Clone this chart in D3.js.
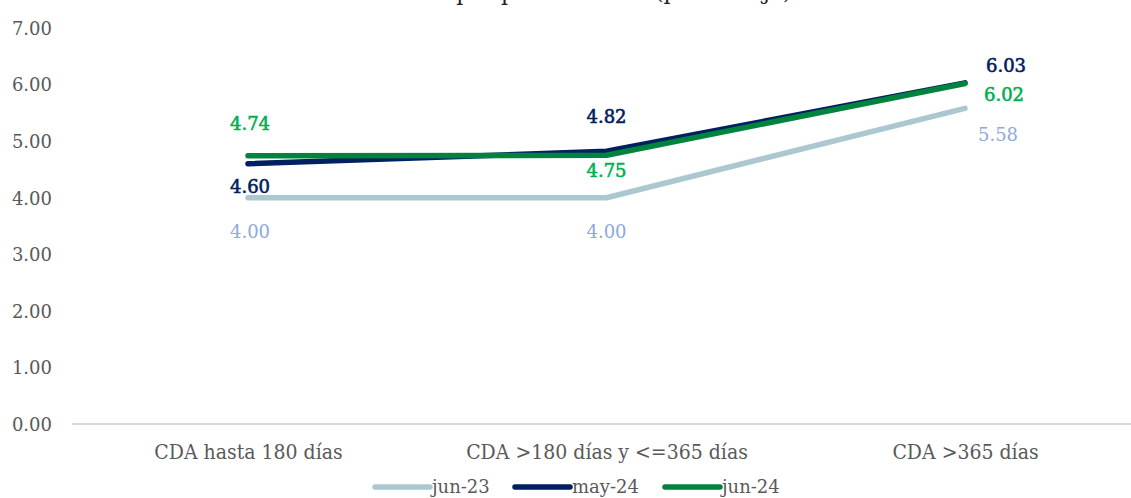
<!DOCTYPE html>
<html><head><meta charset="utf-8">
<script src="https://cdn.jsdelivr.net/npm/d3@7"></script>
<style>
body{margin:0;background:#fff;}
svg{display:block;}
</style></head>
<body><svg id="c" width="1131" height="498"></svg>
<script>
const categories = ["CDA hasta 180 días", "CDA >180 días y <=365 días", "CDA >365 días"];
const seriesNames = ["jun-23", "may-24", "jun-24"];
const jun23 = [4.00, 4.00, 5.58];
const may24 = [4.60, 4.82, 6.03];
const jun24 = [4.74, 4.75, 6.02];
const yTicks = [0, 1, 2, 3, 4, 5, 6, 7];
const titleText = "Gráfico 17. Tasas de interés de los CDA por plazo";
const titleUnit = "(porcentaje)";

const lineColors = ["#ABC7CF", "#002060", "#00843D"];
const labelColors = ["#8EA9DB", "#002060", "#00B050"];
// label placement per series per category: [dx, dy] relative to point
const labelPos = [
  [[2, 34], [0, 34], [33, 26]],
  [[2, 23], [0, -35], [41, -17]],
  [[2, -32], [0, 15], [39, 11]]
];

const svg = d3.select("#c");
const serif = "'DejaVu Serif', 'Liberation Serif', serif";

const x = d3.scalePoint().domain(categories).range([248, 965]);
const y = d3.scaleLinear().domain([0, 7]).range([424, 28]);

// title (cut off at top, as in the reference)
svg.append("text").attr("x", 8).attr("y", 0).attr("font-family", serif)
  .attr("font-size", 22).attr("fill", "#222").text(titleText);
svg.append("text").attr("x", 655).attr("y", -1).attr("font-family", serif)
  .attr("font-size", 22).attr("fill", "#222").text(titleUnit);

// y axis labels
const yAxis = d3.axisLeft(y).tickValues(yTicks).tickFormat(d3.format(".2f")).tickSize(0).tickPadding(0);
const ya = svg.append("g").attr("transform", "translate(52,0)").call(yAxis);
ya.select(".domain").remove();
ya.selectAll("text").attr("font-family", serif).attr("font-size", 18).attr("fill", "#595959").attr("dy", "0.35em");

// x axis baseline
svg.append("line").attr("x1", 72).attr("x2", 1131).attr("y1", y(0)).attr("y2", y(0))
  .attr("stroke", "#D9D9D9").attr("stroke-width", 2);

const xAxis = d3.axisBottom(x).tickSize(0).tickPadding(0);
const xa = svg.append("g").attr("transform", `translate(0,${y(0)})`).call(xAxis);
xa.select(".domain").remove();
xa.selectAll("text").attr("font-family", "'DejaVu Serif Condensed', 'DejaVu Serif', serif")
  .attr("font-size", 21).attr("fill", "#595959").attr("y", 35).attr("dy", 0);

const data = [jun23, may24, jun24];
const line = d3.line().x((d, i) => x(categories[i])).y(d => y(d));

data.forEach((vals, s) => {
  svg.append("path").datum(vals).attr("d", line).attr("fill", "none")
    .attr("stroke", lineColors[s]).attr("stroke-width", 5.5)
    .attr("stroke-linecap", "round").attr("stroke-linejoin", "round");
});

data.forEach((vals, s) => {
  svg.append("g").selectAll("text").data(vals).join("text")
    .attr("x", (d, i) => x(categories[i]) + labelPos[s][i][0])
    .attr("y", (d, i) => y(d) + labelPos[s][i][1])
    .attr("text-anchor", "middle").attr("dy", "0.35em")
    .attr("font-family", serif).attr("font-size", 18)
    .attr("stroke", s === 0 ? "none" : labelColors[s]).attr("stroke-width", 0.6)
    .attr("fill", labelColors[s]).text(d => d.toFixed(2));
});

// legend
const legX = [375, 515, 665];
seriesNames.forEach((n, s) => {
  const g = svg.append("g").attr("transform", `translate(${legX[s]},487)`);
  g.append("line").attr("x1", 0).attr("x2", 55).attr("y1", 0).attr("y2", 0)
    .attr("stroke", lineColors[s]).attr("stroke-width", 5.5).attr("stroke-linecap", "round");
  g.append("text").attr("x", 57).attr("y", 0).attr("dy", "0.35em")
    .attr("font-family", serif).attr("font-size", 18).attr("fill", "#595959").text(n);
});
</script></body></html>
